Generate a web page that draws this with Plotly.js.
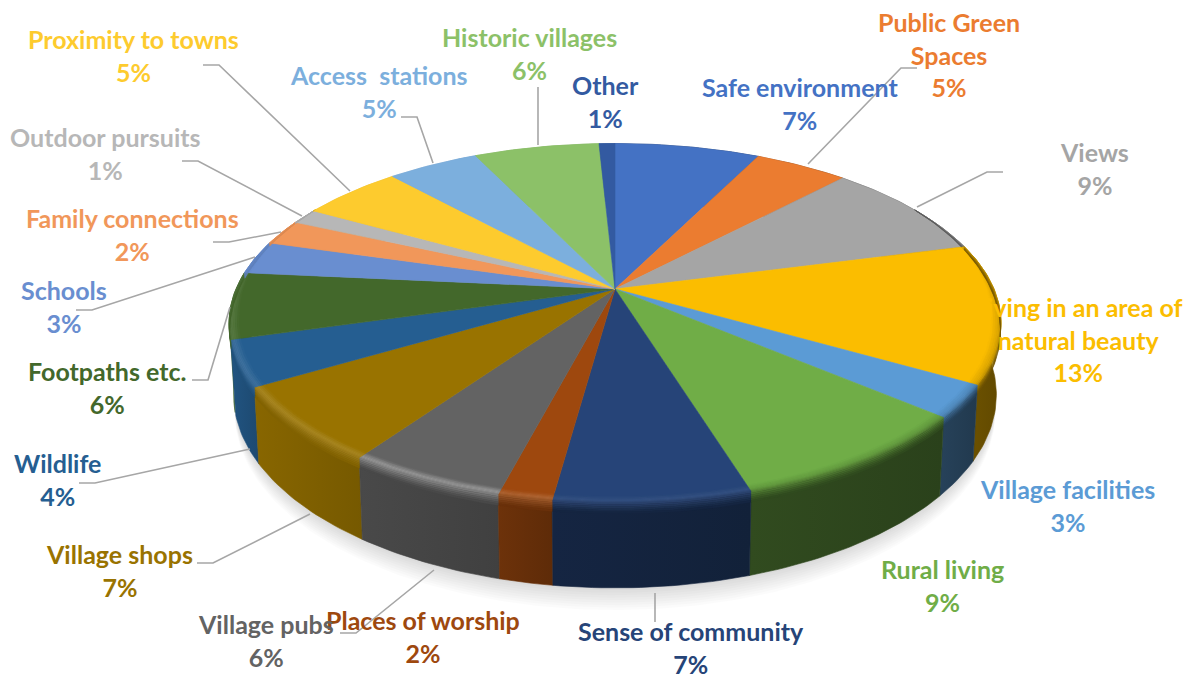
<!DOCTYPE html>
<html>
<head>
<meta charset="utf-8">
<script src="https://cdn.plot.ly/plotly-3.0.1.min.js"></script>
<style>html,body{margin:0;padding:0;background:#fff}#chart{width:1193px;height:678px}</style>
</head>
<body>
<div id="chart"></div>
<script>
// ---- data (clockwise from 12 o'clock) ----
const categories = ["Safe environment","Public Green<br>Spaces","Views","Living in an area of<br>natural beauty","Village facilities","Rural living","Sense of community","Places of worship","Village pubs","Village shops","Wildlife","Footpaths etc.","Schools","Family connections","Outdoor pursuits","Proximity to towns","Access\u00a0 stations","Historic villages","Other"];
const shares = [7.3,4.7,8.9,12.5,2.9,9.0,6.9,1.9,5.6,6.8,4.1,6.0,3.0,2.3,1.4,5.1,4.6,6.3,0.8];

// ---- styles ----
const colors = ["#4472C4","#EB7C30","#A5A5A5","#FBBD00","#5B9BD5","#70AD47","#264478","#9E480E","#636363","#997300","#255E91","#43682B","#698ED0","#F1975A","#B7B7B7","#FDCB2E","#7CAFDD","#8CC168","#335AA1"];
const wallShade = [.5,.5,.5,.42,.4,.41,.52,.65,.7,.84,.84,.95,.9,.9,.9,.9,.9,.9,.9];
const rimGlow   = [0,0,0,0,0,0,.07,.16,.34,.14,.12,.1,0,0,0,0,0,0,0];

// ---- label placement in page pixels (block centre) ----
const labelX = [800,949,1094,1078,1067,942,691,423,266,119,57,107,64,132,105,133,379,529,605];
const labelY = [103,54,168,339,505,585,647,636,640,570.5,479,387,306,234,153,55,91,53,101];

// ---- leader lines in page pixels ----
const leaders = [
 [[917,68],[901,68],[808,164]],
 [[1003,172],[987,172],[917,207]],
 [[538,87],[538,145]],
 [[401,117],[417,117],[433,163]],
 [[203,65],[219,65],[350,191]],
 [[182,161],[198,161],[302,216]],
 [[213,242],[229,242],[281,232]],
 [[76,310],[92,310],[255,257]],
 [[192,380],[208,380],[230,307]],
 [[79,483],[95,483],[250,449]],
 [[197,563],[213,563],[310,514]],
 [[340,633],[356,633],[434,570]],
 [[655,593],[655,622]]
];

// ---- projection of the tilted disc ----
const CX=615, CY=289, AX=379, BY=173.1, K=0.19, H=69;
function P(deg,r,h){
  const t=deg*Math.PI/180, u=r*Math.sin(t), v=r*Math.cos(t), d=1+K*v;
  const shrink=1-0.012*h/H;
  return [CX+AX*shrink*u/d, CY-BY*v/d+h/d];
}
function arc(a,b,r,h){
  const n=Math.max(2,Math.ceil(Math.abs(b-a))), out=[];
  for(let i=0;i<=n;i++) out.push(P(a+(b-a)*i/n,r,h));
  return out;
}
// bevel width fades out towards the back of the disc
function taper(deg){
  const clamp=x=>Math.max(0,Math.min(1,x));
  return Math.min(clamp((deg-60)/40),clamp((300-deg)/38));
}
function bevelArc(a,b,r,h){
  const n=Math.max(2,Math.ceil(Math.abs(b-a))), out=[];
  for(let i=0;i<=n;i++){
    const d=a+(b-a)*i/n, t=taper(d);
    out.push(P(d,1-(1-r)*t,h*t));
  }
  return out;
}
function hex(c){return [1,3,5].map(i=>parseInt(c.substr(i,2),16));}
function rgb(a){return 'rgb('+a.map(x=>Math.round(Math.max(0,Math.min(255,x)))).join(',')+')';}
function mix(a,b,t){return a.map((x,i)=>x+(b[i]-x)*t);}
function poly(pts,color,extra){
  return Object.assign({type:'scatter',mode:'lines',x:pts.map(p=>p[0]),y:pts.map(p=>p[1]),fill:'toself',
    fillcolor:color,line:{color:color,width:0.6},hoverinfo:'skip',showlegend:false},extra||{});
}

const total=shares.reduce((a,b)=>a+b,0);
const starts=[]; let acc=0;
shares.forEach(s=>{starts.push(acc/total*360); acc+=s;});
const ends=starts.map((s,i)=>s+shares[i]/total*360);

const traces=[];

// soft shadow under the disc
for(let d=18;d>=2;d-=2){
  traces.push(poly(arc(0,360,1,H+d),'rgba(0,0,0,0.017)',{line:{width:0}}));
}

// walls, back to front
const order=categories.map((_,i)=>i).sort((a,b)=>{
  const f=i=>Math.cos((starts[i]+ends[i])/2*Math.PI/180);
  return f(b)-f(a);
});
order.forEach(i=>{
  const base=hex(colors[i]), w=wallShade[i];
  const pts=arc(starts[i],ends[i],1,0).concat(arc(ends[i],starts[i],1,H));
  pts.push(pts[0]);
  const c=rgb(base.map(x=>x*w));
  const t=poly(pts,c);
  t.fillgradient={type:'horizontal',colorscale:[[0,rgb(base.map(x=>x*w*1.06))],[1,rgb(base.map(x=>x*w*0.92))]]};
  traces.push(t);
});

// top faces
categories.forEach((name,i)=>{
  const pts=[[CX,CY]].concat(arc(starts[i],ends[i],1,0)); pts.push([CX,CY]);
  traces.push(poly(pts,colors[i],{hoverinfo:'text',text:name.replace('<br>',' ')+': '+Math.round(shares[i])+'%'}));
});

// bevel along the visible rim
categories.forEach((name,i)=>{
  const a=Math.max(starts[i],60), b=Math.min(ends[i],300);
  if(b<=a) return;
  const base=hex(colors[i]), wall=base.map(x=>x*wallShade[i]);
  const peak=rimGlow[i]>0?mix(base,[255,255,255],rimGlow[i]):mix(base,wall,.2);
  const stops=[
    [.975,0,base],
    [.985,0,mix(base,peak,.6)],
    [.993,0,peak],
    [1,0,mix(peak,wall,.25)],
    [1,3,mix(peak,wall,.55)],
    [1,6,mix(peak,wall,.82)],
    [1,9,wall]
  ];
  for(let j=0;j<stops.length-1;j++){
    for(let s=0;s<2;s++){
      const p=stops[j], q=stops[j+1];
      const r0=p[0]+(q[0]-p[0])*s/2, r1=p[0]+(q[0]-p[0])*(s+1)/2;
      const h0=p[1]+(q[1]-p[1])*s/2, h1=p[1]+(q[1]-p[1])*(s+1)/2;
      const col=rgb(mix(p[2],q[2],(s+.5)/2));
      const pts=bevelArc(a,b,r0,h0).concat(bevelArc(b,a,r1,h1)); pts.push(pts[0]);
      traces.push(poly(pts,col,{line:{color:col,width:0.3}}));
    }
  }
});

// labels
const annotations=categories.map((name,i)=>({
  xref:'x',yref:'y',x:labelX[i],y:labelY[i],xanchor:'center',yanchor:'middle',showarrow:false,
  text:name+'<br>'+Math.round(shares[i])+'%',
  font:{family:'Lato, Carlito, sans-serif',size:25,weight:700,color:colors[i]},align:'center'
}));

// leader lines
const shapes=leaders.map(l=>({type:'path',xref:'x',yref:'y',layer:'above',
  path:l.map((p,i)=>(i?'L':'M')+p[0]+' '+p[1]).join(' '),line:{color:'#A6A6A6',width:1.6}}));

Plotly.newPlot('chart',traces,{
  width:1193,height:678,margin:{l:0,r:0,t:0,b:0},paper_bgcolor:'#fff',plot_bgcolor:'#fff',showlegend:false,
  xaxis:{range:[0,1193],visible:false,fixedrange:true},
  yaxis:{range:[678,0],visible:false,fixedrange:true},
  annotations,shapes,hovermode:'closest'
},{displayModeBar:false});
</script>
</body>
</html>
